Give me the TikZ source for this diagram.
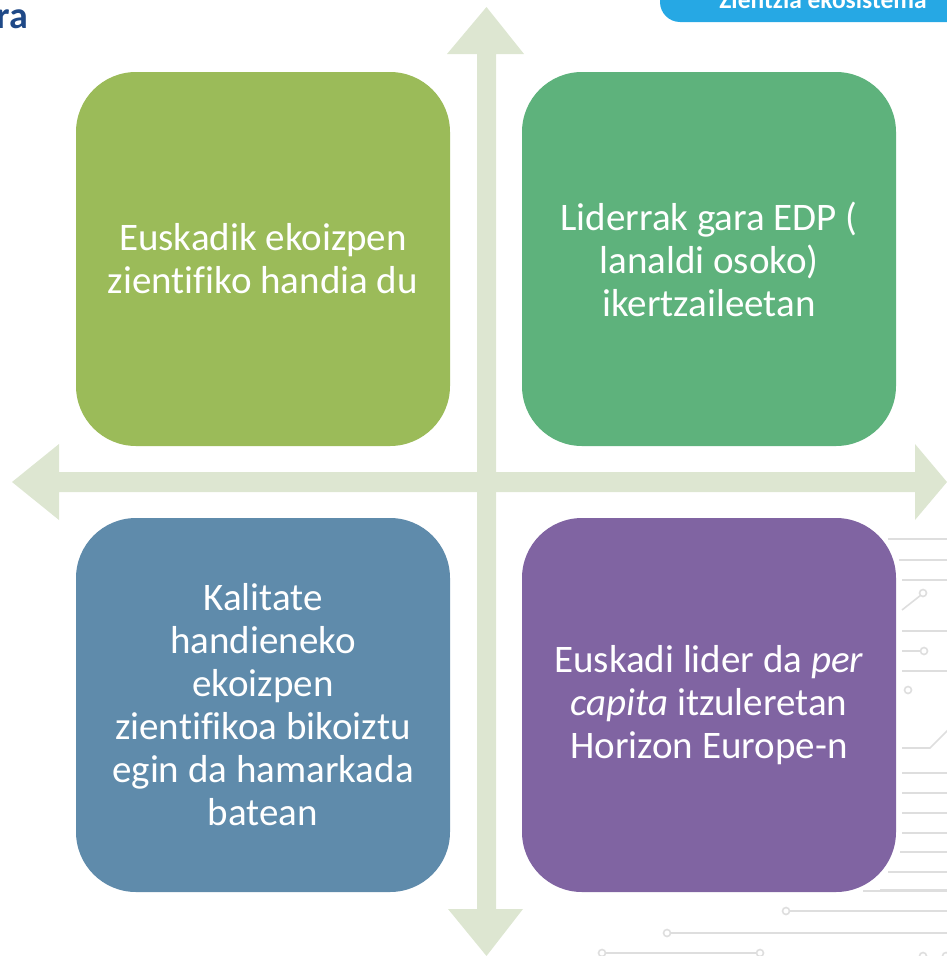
\documentclass[tikz,border=0pt]{standalone}
\usepackage{fontspec}
\setmainfont[Ligatures=NoCommon]{Carlito}
\definecolor{axisc}{RGB}{221,230,209}
\definecolor{boxA}{RGB}{155,187,89}
\definecolor{boxB}{RGB}{94,178,124}
\definecolor{boxC}{RGB}{95,139,171}
\definecolor{boxD}{RGB}{128,100,162}
\definecolor{tabc}{RGB}{38,168,228}
\definecolor{titlec}{RGB}{31,73,135}
\definecolor{circ}{RGB}{222,222,222}
\tikzset{
  quad/.style={rounded corners=60pt, minimum width=374pt, minimum height=374pt,
    inner sep=0pt, text=white, align=center,
    font=\fontsize{39}{43}\selectfont},
  trace/.style={draw=circ, line width=1.6pt},
  pad/.style={draw=circ, line width=1.6pt, fill=white},
}
\begin{document}
\begin{tikzpicture}[x=1pt,y=-1pt]
\useasboundingbox (0,0) rectangle (947,956);
\begin{scope}
\clip (0,0) rectangle (947,956);
% circuit decoration
\foreach \ya/\xa in {539/888,560/899,580/902,631/902,671/902,773/902,793/902,813/902,833/902,852/900,872/888,890/880,891/863}
  \draw[trace] (\xa,\ya) -- (947,\ya);
\draw[trace] (902,610) -- (921,595);
\draw[pad] (923,593) circle (3.5);
\draw[trace] (902,651) -- (920,651);
\draw[pad] (924,651) circle (3.5);
\draw[pad] (908,690) circle (3.5);
\draw[trace] (902,748) -- (930,748) -- (948,730);
\draw[trace] (790,911) -- (947,911);
\draw[pad] (786,911) circle (3.5);
\draw[trace] (671,933) -- (947,933);
\draw[pad] (667,933) circle (3.5);
\draw[trace] (606,953) -- (756,953);
\draw[pad] (602,953) circle (3.5);
\draw[pad] (760,953) circle (3.5);
\draw[pad] (923,956) circle (3.5);
\draw[pad] (946,956) circle (3.5);
% axes
\fill[axisc] (477,54) -- (447,54) -- (486.5,7) -- (524,54) -- (496,54) -- (496,909)
  -- (523,909) -- (486.5,956) -- (448,909) -- (477,909) -- cycle;
\fill[axisc] (59,472) -- (59,444) -- (12,482) -- (59,520) -- (59,492) -- (915,492)
  -- (915,520) -- (947,482) -- (915,444) -- (915,472) -- cycle;
% tab
\fill[tabc] (950,-5) -- (660,-5) -- (660,2) .. controls (660,13) and (669,22) .. (680,22) -- (950,22) -- cycle;
\node[anchor=base, inner sep=0pt, text=white, font=\fontsize{25.5}{28}\selectfont\bfseries] (tab) at (823,8) {Zientzia ekosistema};
% title fragment
\node[anchor=base east, inner sep=0pt, text=titlec, font=\fontsize{38}{40}\selectfont\bfseries] (title) at (28,28) {ra};
\end{scope}
% quadrants
\node[quad, fill=boxA] (q1) at (263,259) {Euskadik ekoizpen\\zientifiko handia du};
\node[quad, fill=boxB] (q2) at (709,259) {Liderrak gara EDP (\\lanaldi osoko)\\ikertzaileetan};
\node[quad, fill=boxC] (q3) at (263,705) {Kalitate\\handieneko\\ekoizpen\\zientifikoa bikoiztu\\egin da hamarkada\\batean};
\node[quad, fill=boxD] (q4) at (709,705) {Euskadi lider da \textit{per}\\\textit{capita} itzuleretan\\Horizon Europe-n};
\end{tikzpicture}
\end{document}
